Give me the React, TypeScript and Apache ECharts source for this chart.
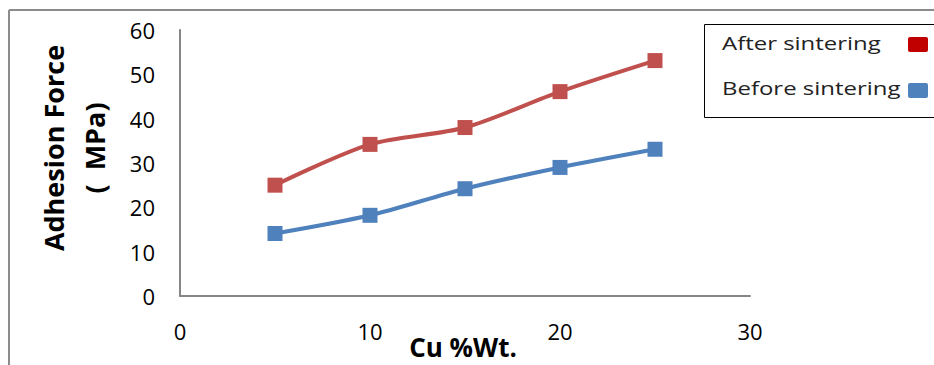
import React, { useEffect, useRef } from "react";
import * as echarts from "echarts";

const cuPercent = [5, 10, 15, 20, 25];
const afterSintering = [25, 34.2, 38, 46.1, 53.1];
const beforeSintering = [14.1, 18.2, 24.2, 29, 33.1];
const seriesNames = ["After sintering", "Before sintering"];
const lineColors = ["#C0504D", "#4F81BD"];
const legendColors = ["#C00000", "#4F81BD"];
const xTitle = "Cu %Wt.";
const yTitle = "Adhesion Force\n(  MPa)";

const FONT = "'Open Sans', 'Noto Sans', sans-serif";

export default function App() {
  const ref = useRef<HTMLDivElement>(null);
  useEffect(() => {
    document.body.style.margin = "0";
    document.body.style.overflow = "hidden";
    if (!ref.current) return;
    const chart = echarts.init(ref.current, null, { renderer: "svg" });
    const mk = (d: number[]) => cuPercent.map((x, i) => [x, d[i]]);
    chart.setOption({
      animation: false,
      textStyle: { fontFamily: FONT },
      grid: { left: 180, top: 30, right: 184, bottom: 69, containLabel: false, outerBoundsMode: "none" },
      xAxis: {
        type: "value",
        min: 0,
        max: 30,
        interval: 10,
        axisLine: { show: true, lineStyle: { color: "#868686", width: 2 } },
        axisTick: { show: false },
        splitLine: { show: false },
        axisLabel: { fontSize: 22, color: "#000", margin: 24, fontFamily: FONT },
      },
      yAxis: {
        type: "value",
        min: 0,
        max: 60,
        interval: 10,
        axisLine: { show: true, lineStyle: { color: "#868686", width: 2 } },
        axisTick: { show: false },
        splitLine: { show: false },
        axisLabel: { fontSize: 22, color: "#000", margin: 25, fontFamily: FONT },
      },
      legend: { show: false },
      graphic: [
        { type: "line", shape: { x1: 9, y1: 10, x2: 940, y2: 10 }, style: { stroke: "#8c8c8c", lineWidth: 2 } },
        { type: "line", shape: { x1: 9, y1: 10, x2: 9, y2: 400 }, style: { stroke: "#8c8c8c", lineWidth: 2 } },
        {
          type: "text",
          x: 74,
          y: 148,
          rotation: Math.PI / 2,
          style: {
            text: yTitle,
            align: "center",
            verticalAlign: "middle",
            fontSize: 27,
            fontWeight: "bold",
            lineHeight: 41,
            fill: "#000",
            fontFamily: FONT,
          },
        },
        {
          type: "text",
          x: 463,
          y: 347,
          style: {
            text: xTitle,
            align: "center",
            verticalAlign: "middle",
            fontSize: 26,
            fontWeight: "bold",
            fill: "#000",
            fontFamily: FONT,
          },
        },
        { type: "rect", shape: { x: 704.5, y: 24.5, width: 400, height: 93 }, style: { fill: "#fff", stroke: "#000", lineWidth: 1 } },
        { type: "text", x: 722, y: 43, scaleX: 1.26, style: { text: seriesNames[0], fontSize: 19, fill: "#222", verticalAlign: "middle", fontFamily: FONT } },
        { type: "text", x: 722, y: 88, scaleX: 1.26, style: { text: seriesNames[1], fontSize: 19, fill: "#222", verticalAlign: "middle", fontFamily: FONT } },
        { type: "rect", shape: { x: 908, y: 37, width: 20, height: 15, r: 2 }, style: { fill: legendColors[0] } },
        { type: "rect", shape: { x: 908, y: 83, width: 20, height: 15, r: 2 }, style: { fill: legendColors[1] } },
      ],
      series: [
        {
          name: seriesNames[0],
          type: "line",
          data: mk(afterSintering),
          smooth: 0.3,
          symbol: "rect",
          symbolSize: 15,
          lineStyle: { color: lineColors[0], width: 4 },
          itemStyle: { color: lineColors[0] },
        },
        {
          name: seriesNames[1],
          type: "line",
          data: mk(beforeSintering),
          smooth: 0.3,
          symbol: "rect",
          symbolSize: 15,
          lineStyle: { color: lineColors[1], width: 4 },
          itemStyle: { color: lineColors[1] },
        },
      ],
    });
    return () => chart.dispose();
  }, []);
  return <div ref={ref} style={{ width: 934, height: 365 }} />;
}
